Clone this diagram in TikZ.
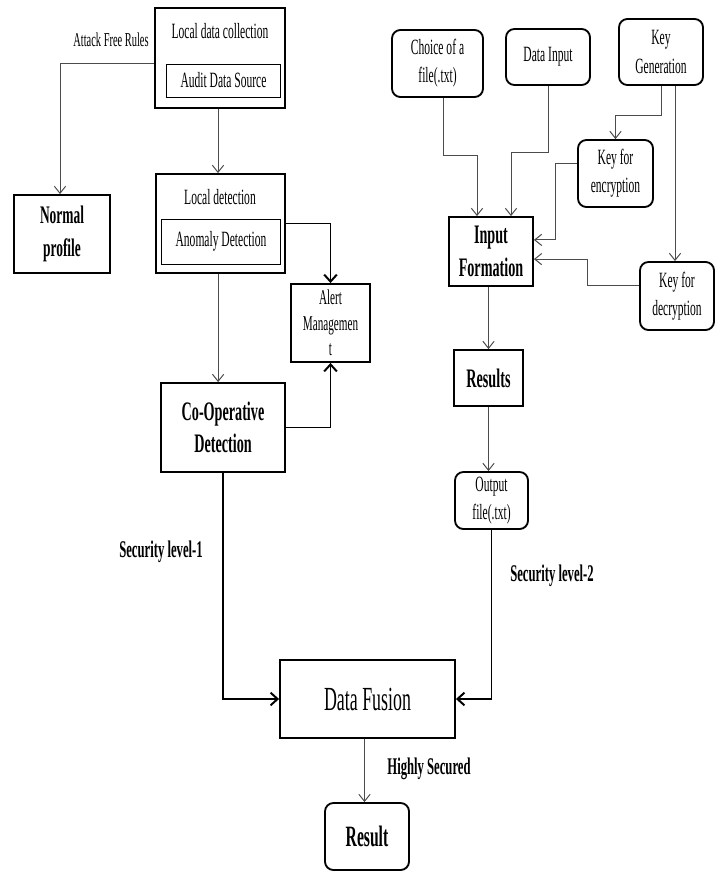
\documentclass[tikz,border=0pt]{standalone}
\usepackage{fontspec}
\setmainfont[FakeStretch=0.53]{Liberation Serif}
\usepackage{tikz}
\usetikzlibrary{arrows.meta, positioning}

\begin{document}
\begin{tikzpicture}[
    x=0.025cm, y=-0.025cm,
    box/.style={draw, line width=1.3pt, align=center, inner sep=2pt, font=\fontsize{15.5}{20}\selectfont},
    rbox/.style={box, rounded corners=6pt},
    inbox/.style={draw, line width=0.7pt, align=center, inner sep=1pt, font=\fontsize{15.5}{20}\selectfont},
    btext/.style={font=\bfseries\fontsize{19}{23}\selectfont},
    lbl/.style={font=\bfseries\fontsize{17}{20}\selectfont},
    arrow/.style={-{Straight Barb[length=5pt,width=8pt]}, line width=0.7pt, draw=black!70},
    bigarrow/.style={-{Straight Barb[length=5pt,width=9pt]}, line width=1.4pt}
]
\useasboundingbox (0,0) rectangle (720,874);

% Left branch: detection side
\node[box, minimum width=3.25cm, minimum height=2.5cm] (ldc) at (220,58) {};
\node[font=\fontsize{15.5}{20}\selectfont] (ldctext) at (220,31) {Local data collection};
\node[inbox, minimum width=2.825cm, minimum height=0.825cm] (ads) at (223.5,80.5) {Audit Data Source};

\node[box, minimum width=3.225cm, minimum height=2.475cm] (ld) at (220.5,223.5) {};
\node[font=\fontsize{15.5}{20}\selectfont] (ldtext) at (220,197) {Local detection};
\node[inbox, minimum width=2.95cm, minimum height=1.125cm] (ad) at (221,241.5) {Anomaly Detection};

\node[box, btext, font=\bfseries\fontsize{18}{24}\selectfont, minimum width=2.4cm, minimum height=1.95cm] (np) at (62,234) {Normal\\profile};
\node[box, font=\fontsize{15}{18}\selectfont, minimum width=1.975cm, minimum height=1.95cm] (alert) at (330.5,323) {Alert\\Managemen\\t};
\node[box, btext, minimum width=3.1cm, minimum height=2.225cm] (coop) at (223,427.5) {Co-Operative\\Detection};

% Right branch: encryption side
\node[rbox, minimum width=2.275cm, minimum height=1.675cm] (choice) at (437.5,63.5) {Choice of a\\file(.txt)};
\node[rbox, minimum width=2.1cm, minimum height=1.4cm] (datain) at (548,57) {Data Input};
\node[rbox, minimum width=2.1cm, minimum height=1.65cm] (keygen) at (661,52) {Key\\Generation};
\node[rbox, minimum width=1.875cm, minimum height=1.675cm] (keyenc) at (615.5,173.5) {Key for\\encryption};
\node[box, btext, minimum width=2.1cm, minimum height=1.725cm] (inform) at (491,251.5) {Input\\Formation};
\node[rbox, minimum width=1.85cm, minimum height=1.7cm] (keydec) at (677,296) {Key for\\decryption};
\node[box, btext, minimum width=1.725cm, minimum height=1.4cm] (results) at (488.5,378) {Results};
\node[rbox, minimum width=1.825cm, minimum height=1.425cm] (output) at (491.5,500.5) {Output\\file(.txt)};

% Fusion
\node[box, font=\fontsize{24}{28}\selectfont, minimum width=4.375cm, minimum height=1.95cm] (fusion) at (367.5,699) {Data Fusion};
\node[rbox, font=\bfseries\fontsize{21}{25}\selectfont, minimum width=2.1cm, minimum height=1.675cm] (result) at (367,836.5) {Result};

% Labels
\node[font=\fontsize{14}{17}\selectfont] (afr) at (111,40) {Attack Free Rules};
\node[lbl] (sl1) at (161,552) {Security level-1};
\node[lbl] (sl2) at (552,576) {Security level-2};
\node[lbl] (hs) at (429,769) {Highly Secured};

% Arrows: left
\draw[arrow] ([yshift=-0.125cm]ldc.west) -| ([xshift=-0.05cm]np.north);
\draw[arrow] ([xshift=-0.05cm]ldc.south) -- ([xshift=-0.05cm]ldc.south |- ld.north);
\draw[arrow] ([xshift=-0.06cm]ld.south) -- ([xshift=-0.06cm]ld.south |- coop.north);
\draw[bigarrow] (ld.east) -| (alert.north);
\draw[bigarrow] (coop.east) -| (alert.south);

% Arrows: right
\draw[arrow] ([xshift=0.14cm]choice.south) -- ++(0,58) -| ([xshift=-0.35cm]inform.north);
\draw[arrow] (datain.south) -- ++(0,67) -| ([xshift=0.5cm]inform.north);
\draw[arrow] (keygen.south) -- ++(0,30) -| (keyenc.north);
\draw[arrow] ([xshift=0.35cm]keygen.south) -- ([xshift=0.35cm]keygen.south |- keydec.north);
\draw[arrow] ([yshift=0.26cm]keyenc.west) -- ++(-22,0) |- ([yshift=0.29cm]inform.east);
\draw[arrow] ([yshift=0.275cm]keydec.west) -- ++(-52,0) |- ([yshift=-0.19cm]inform.east);
\draw[arrow] (results.north |- inform.south) -- (results.north);
\draw[arrow] (results.south) -- (results.south |- output.north);

% Arrows: fusion
\draw[bigarrow] (coop.south) |- (fusion.west);
\draw[bigarrow] (output.south) |- (fusion.east);
\draw[arrow] ([xshift=-0.075cm]fusion.south) -- ([xshift=-0.075cm]fusion.south |- result.north);

\end{tikzpicture}
\end{document}
